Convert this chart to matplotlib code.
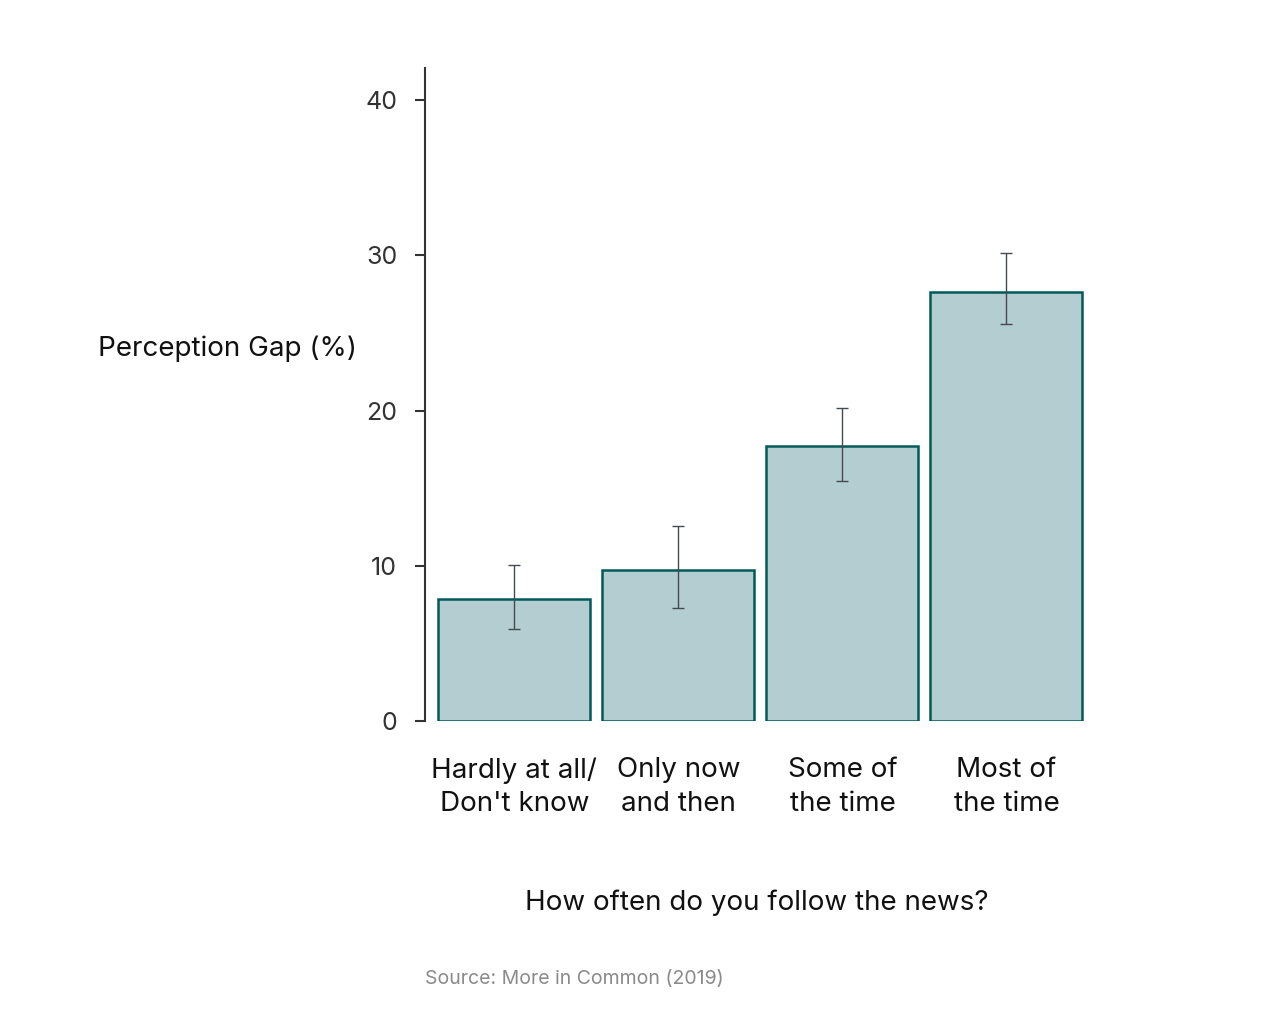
import matplotlib
matplotlib.use("Agg")
import matplotlib.pyplot as plt
import numpy as np

categories = ["Hardly at all/\nDon't know", "Only now\nand then", "Some of\nthe time", "Most of\nthe time"]
values = [7.86, 9.73, 17.71, 27.63]
err_low = [5.93, 7.28, 15.46, 25.57]
err_high = [10.05, 12.56, 20.16, 30.15]
yticks = [0, 10, 20, 30, 40]

plt.rcParams['font.family'] = ['Inter', 'DejaVu Sans']

fig = plt.figure(figsize=(12.8, 10.16), dpi=100)
ax = fig.add_axes([0.332, 0.2904, 0.52, 0.6426])

x = np.arange(len(categories))
vals = np.array(values)
yerr = np.array([vals - np.array(err_low), np.array(err_high) - vals])
ax.bar(x, vals, width=0.927, color="#b3cdd0", edgecolor="#005a5a", linewidth=1.8)
ax.errorbar(x, vals, yerr=yerr, fmt="none", ecolor="#444a4f", elinewidth=1.0, capsize=4, capthick=1.0)

ax.set_xlim(-0.545, 3.513)
ax.set_ylim(0, 42.06)
ax.set_yticks(yticks)
ax.set_yticklabels([str(t) for t in yticks], fontsize=18, color="#333333")
ax.set_xticks(x)
ax.set_xticklabels(categories, fontsize=20, color="#111111", linespacing=1.38)
ax.tick_params(axis="x", length=0, pad=26)
ax.tick_params(axis="y", length=7, width=1.5, color="#333333", pad=13)

for s in ["top", "right", "bottom"]:
    ax.spines[s].set_visible(False)
ax.spines["left"].set_color("#333333")
ax.spines["left"].set_linewidth(1.5)

fig.text(0.178, 1 - 349 / 1016, "Perception Gap (%)", fontsize=20, ha="center", va="center", color="#111111")
fig.text(0.591, 1 - 903 / 1016, "How often do you follow the news?", fontsize=20, ha="center", va="center", color="#111111")
fig.text(0.332, 1 - 979 / 1016, "Source: More in Common (2019)", fontsize=14, ha="left", va="center", color="#8a8a8a")

fig.savefig("out.png", dpi=100, facecolor="white")
